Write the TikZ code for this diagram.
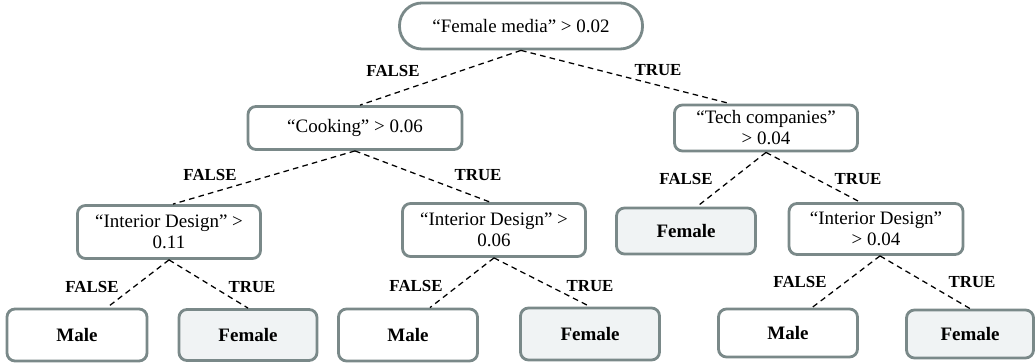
\documentclass[tikz,border=0pt]{standalone}
\usepackage{fontspec}
\setmainfont{Liberation Serif}
\usepackage{xcolor}
\usepackage{tikz}

\definecolor{boxline}{RGB}{122,137,137}
\definecolor{leaffill}{RGB}{240,243,244}

\tikzset{
  split/.style={draw=boxline, line width=2pt, rounded corners=0.2cm, fill=white,
    align=center, inner sep=2pt, font=\fontsize{13.5}{15}\selectfont},
  leaf/.style={split, font=\fontsize{13.5}{15}\selectfont\bfseries},
  branch/.style={dashed, dash pattern=on 4pt off 3pt, line width=0.9pt},
  lab/.style={font=\fontsize{12}{14}\selectfont\bfseries}
}

\begin{document}
\begin{tikzpicture}
    \useasboundingbox (0,0) rectangle (25.875,9.075);

    % Root
    \node[split, rounded corners=0.56cm, minimum width=6.075cm, minimum height=1.15cm] (root) at (13.025,8.425) {``Female media'' > 0.02};

    % Level 1
    \node[split, minimum width=5.35cm, minimum height=1.075cm] (cook) at (8.875,5.875) {``Cooking'' > 0.06};
    \node[split, minimum width=4.575cm, minimum height=1.15cm] (tech) at (19.15,5.875) {``Tech companies''\\> 0.04};

    % Level 2
    \node[split, minimum width=4.575cm, minimum height=1.325cm] (int1) at (4.225,3.275) {``Interior Design'' >\\0.11};
    \node[split, minimum width=4.575cm, minimum height=1.325cm] (int2) at (12.35,3.325) {``Interior Design'' >\\0.06};
    \node[leaf, fill=leaffill, minimum width=3.475cm, minimum height=1.15cm] (femT) at (17.15,3.3) {Female};
    \node[split, minimum width=4.35cm, minimum height=1.275cm] (int3) at (21.9,3.35) {``Interior Design''\\> 0.04};

    % Leaves
    \node[leaf, minimum width=3.5cm, minimum height=1.3cm] (male1) at (1.925,0.7) {Male};
    \node[leaf, fill=leaffill, minimum width=3.45cm, minimum height=1.275cm] (fem1) at (6.2,0.7) {Female};
    \node[leaf, minimum width=3.475cm, minimum height=1.3cm] (male2) at (10.2,0.7) {Male};
    \node[leaf, fill=leaffill, minimum width=3.475cm, minimum height=1.3cm] (fem2) at (14.75,0.725) {Female};
    \node[leaf, minimum width=3.475cm, minimum height=1.2cm] (male3) at (19.7,0.75) {Male};
    \node[leaf, fill=leaffill, minimum width=3.175cm, minimum height=1.2cm] (fem3) at (24.25,0.725) {Female};

    % Branches
    \draw[branch] (root.south) -- ([xshift=0.125cm]cook.north);
    \draw[branch] (root.south) -- ([xshift=-0.9cm]tech.north);
    \draw[branch] (cook.south) -- ([xshift=0.1cm]int1.north);
    \draw[branch] (cook.south) -- ([xshift=-0.1cm]int2.north);
    \draw[branch] (int1.south) -- ([xshift=0.75cm]male1.north);
    \draw[branch] (int1.south) -- (fem1.north);
    \draw[branch] (int2.south) -- ([xshift=0.55cm]male2.north);
    \draw[branch] (int2.south) -- (fem2.north);
    \draw[branch] (tech.south) -- ([xshift=0.275cm]femT.north);
    \draw[branch] (tech.south) -- ([xshift=-0.4cm]int3.north);
    \draw[branch] ([xshift=0.1cm]int3.south) -- ([xshift=0.6cm]male3.north);
    \draw[branch] ([xshift=0.1cm]int3.south) -- (fem3.north);

    % Branch labels
    \node[lab] (rootF) at (9.825,7.3) {FALSE};
    \node[lab] (rootT) at (16.45,7.325) {TRUE};
    \node[lab] (cookF) at (5.25,4.7) {FALSE};
    \node[lab] (cookT) at (11.95,4.7) {TRUE};
    \node[lab] (int1F) at (2.3,1.9) {FALSE};
    \node[lab] (int1T) at (6.3,1.9) {TRUE};
    \node[lab] (int2F) at (10.4,1.925) {FALSE};
    \node[lab] (int2T) at (14.75,1.925) {TRUE};
    \node[lab] (techF) at (17.15,4.6) {FALSE};
    \node[lab] (techT) at (21.45,4.6) {TRUE};
    \node[lab] (int3F) at (20.0,2.025) {FALSE};
    \node[lab] (int3T) at (24.3,2.025) {TRUE};
\end{tikzpicture}
\end{document}
